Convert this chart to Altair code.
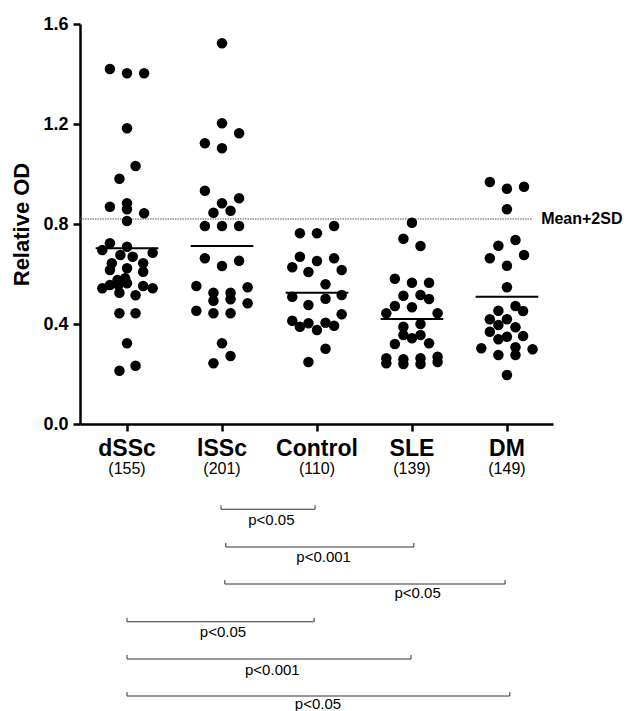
import altair as alt
import pandas as pd

FONT = "Liberation Sans"

categories = ["dSSc", "lSSc", "Control", "SLE", "DM"]
n_labels = ["(155)", "(201)", "(110)", "(139)", "(149)"]

# values (Relative OD) and horizontal scatter offsets (in category widths)
dssc_vals = [1.42, 1.403, 1.403, 1.183, 1.032, 0.981, 0.869, 0.883, 0.859, 0.843, 0.812,
             0.723, 0.696, 0.709, 0.676, 0.669, 0.685, 0.643, 0.616, 0.623, 0.643, 0.609,
             0.576, 0.583, 0.543, 0.556, 0.556, 0.563, 0.525, 0.515, 0.552, 0.543,
             0.443, 0.443, 0.323, 0.213, 0.233]
dssc_off = [-0.18, 0, 0.18, 0, 0.09, -0.08, -0.18, 0, 0, 0.18, 0,
            -0.18, -0.26, 0, -0.07, 0.06, 0.27, -0.16, -0.18, 0, 0.17, 0.17,
            -0.1, -0.02, -0.26, -0.18, -0.09, 0, -0.08, 0.09, 0.17, 0.27,
            -0.08, 0.09, 0, -0.08, 0.09]

lssc_vals = [1.523, 1.203, 1.163, 1.123, 1.103, 0.933, 0.903, 0.883, 0.845, 0.853,
             0.792, 0.792, 0.792, 0.663, 0.632, 0.653, 0.552, 0.525, 0.493, 0.525,
             0.499, 0.547, 0.483, 0.453, 0.443, 0.443, 0.323, 0.272, 0.243]
lssc_off = [0, 0, 0.18, -0.18, 0, -0.18, 0.18, 0, -0.09, 0.09,
            -0.18, 0, 0.18, -0.18, 0, 0.18, -0.27, -0.09, -0.09, 0.09,
            0.09, 0.27, 0.27, -0.27, -0.09, 0.09, 0, 0.09, -0.09]

control_vals = [0.763, 0.763, 0.792, 0.669, 0.652, 0.663, 0.627, 0.608, 0.616, 0.559,
                0.509, 0.501, 0.516, 0.476, 0.439, 0.413, 0.389, 0.403, 0.376, 0.405,
                0.393, 0.301, 0.248]
control_off = [-0.18, 0, 0.18, -0.18, 0, 0.18, -0.26, -0.09, 0.26, 0.09,
               -0.26, 0.09, 0.26, -0.09, 0.26, -0.26, -0.18, -0.09, 0, 0.09,
               0.18, 0.09, -0.09]

sle_vals = [0.805, 0.741, 0.712, 0.581, 0.565, 0.565, 0.513, 0.516, 0.5, 0.472,
            0.467, 0.443, 0.443, 0.389, 0.4, 0.356, 0.356, 0.32, 0.343, 0.323,
            0.263, 0.243, 0.259, 0.24, 0.263, 0.24, 0.269, 0.248]
sle_off = [0, -0.09, 0.09, -0.18, 0, 0.18, -0.09, 0.09, 0.18, -0.18,
           0, -0.27, 0.27, -0.09, 0.09, -0.09, 0.09, -0.18, 0, 0.18,
           -0.27, -0.27, -0.09, -0.09, 0.09, 0.09, 0.27, 0.27]

dm_vals = [0.968, 0.941, 0.949, 0.859, 0.736, 0.713, 0.676, 0.663, 0.633, 0.547,
           0.472, 0.452, 0.453, 0.419, 0.396, 0.419, 0.387, 0.369, 0.339, 0.349,
           0.352, 0.303, 0.276, 0.307, 0.276, 0.299, 0.196]
dm_off = [-0.18, 0, 0.18, 0, 0.09, -0.09, 0.18, -0.18, 0, 0,
          0.09, 0.17, -0.09, -0.18, -0.09, 0, 0.09, -0.18, -0.09, 0,
          0.17, -0.27, -0.09, 0.09, 0.09, 0.27, 0]

means = [0.703, 0.712, 0.525, 0.42, 0.509]
mean_plus_2sd = 0.82

# significance brackets: start, end (category positions), p-label and its x position
br_start = [0.99, 1.04, 1.03, 0.0, 0.0, 0.0]
br_end = [1.98, 3.02, 3.98, 1.97, 2.99, 4.03]
br_label = ["p<0.05", "p<0.001", "p<0.05", "p<0.05", "p<0.001", "p<0.05"]
br_label_x = [1.52, 2.07, 3.06, 1.01, 1.53, 2.01]
br_y = [-0.341, -0.492, -0.64, -0.791, -0.94, -1.088]
br_label_y = [-0.384, -0.531, -0.677, -0.831, -0.984, -1.118]

# ---------- build tables ----------
groups = [dssc_vals, lssc_vals, control_vals, sle_vals, dm_vals]
offsets = [dssc_off, lssc_off, control_off, sle_off, dm_off]
rows = []
for i, (vals, offs) in enumerate(zip(groups, offsets)):
    for v, o in zip(vals, offs):
        rows.append({"x": i + o, "y": v, "group": categories[i]})
pts = pd.DataFrame(rows)

mean_df = pd.DataFrame({"x": [i - 0.33 for i in range(5)],
                        "x2": [i + 0.33 for i in range(5)],
                        "y": means})

cat_df = pd.DataFrame({"x": list(range(5)), "name": categories, "n": n_labels,
                       "ny": [-0.1] * 5, "nny": [-0.18] * 5})

br_df = pd.DataFrame({"x": br_start, "x2": br_end, "y": br_y,
                      "ytop": [b + 0.016 for b in br_y]})
brl_df = pd.DataFrame({"x": br_label_x, "y": br_label_y, "label": br_label})

ref_df = pd.DataFrame({"x": [-0.495], "x2": [4.27], "y": [mean_plus_2sd],
                       "lx": [4.36], "label": ["Mean+2SD"]})

xs = alt.Scale(domain=[-0.495, 4.485], nice=False, zero=False)
ys = alt.Scale(domain=[0, 1.6], nice=False, zero=False)

x_axis = alt.Axis(values=[0, 1, 2, 3, 4], labels=False, title=None, grid=False,
                  domainColor="black", domainWidth=2.5, tickColor="black",
                  tickWidth=2.5, tickSize=7)
y_axis = alt.Axis(values=[0, 0.4, 0.8, 1.2, 1.6], format=".1f", title="Relative OD",
                  grid=False, domainColor="black", domainWidth=2.5,
                  tickColor="black", tickWidth=2.5, tickSize=7,
                  labelFont=FONT, labelFontSize=18, labelFontWeight="bold",
                  labelColor="black", labelPadding=5,
                  titleFont=FONT, titleFontSize=22, titleFontWeight="bold",
                  titleColor="black", titlePadding=9)

points = alt.Chart(pts).mark_circle(size=110, color="black", opacity=1).encode(
    x=alt.X("x:Q", scale=xs, axis=x_axis),
    y=alt.Y("y:Q", scale=ys, axis=y_axis),
)

mean_lines = alt.Chart(mean_df).mark_rule(color="black", strokeWidth=2).encode(
    x=alt.X("x:Q", scale=xs), x2="x2:Q", y=alt.Y("y:Q", scale=ys))

ref_line = alt.Chart(ref_df).mark_rule(color="#555555", strokeWidth=1,
                                       strokeDash=[1.5, 1]).encode(
    x=alt.X("x:Q", scale=xs), x2="x2:Q", y=alt.Y("y:Q", scale=ys))

ref_text = alt.Chart(ref_df).mark_text(font=FONT, fontSize=16, fontWeight="bold",
                                       align="left", baseline="middle",
                                       color="black").encode(
    x=alt.X("lx:Q", scale=xs), y=alt.Y("y:Q", scale=ys), text="label:N")

cat_text = alt.Chart(cat_df).mark_text(font=FONT, fontSize=23, fontWeight="bold",
                                       baseline="middle", color="black").encode(
    x=alt.X("x:Q", scale=xs), y=alt.Y("ny:Q", scale=ys), text="name:N")

n_text = alt.Chart(cat_df).mark_text(font=FONT, fontSize=16, baseline="middle",
                                     color="black").encode(
    x=alt.X("x:Q", scale=xs), y=alt.Y("nny:Q", scale=ys), text="n:N")

br_h = alt.Chart(br_df).mark_rule(color="#333333", strokeWidth=1).encode(
    x=alt.X("x:Q", scale=xs), x2="x2:Q", y=alt.Y("y:Q", scale=ys))
br_l = alt.Chart(br_df).mark_rule(color="#333333", strokeWidth=1).encode(
    x=alt.X("x:Q", scale=xs), y=alt.Y("y:Q", scale=ys), y2="ytop:Q")
br_r = alt.Chart(br_df).mark_rule(color="#333333", strokeWidth=1).encode(
    x=alt.X("x2:Q", scale=xs), y=alt.Y("y:Q", scale=ys), y2="ytop:Q")
br_text = alt.Chart(brl_df).mark_text(font=FONT, fontSize=15, baseline="middle",
                                      color="black").encode(
    x=alt.X("x:Q", scale=xs), y=alt.Y("y:Q", scale=ys), text="label:N")

chart = alt.layer(ref_line, mean_lines, points, ref_text, cat_text, n_text,
                  br_h, br_l, br_r, br_text).properties(
    width=473, height=400,
    background="white",
    autosize=alt.AutoSizeParams(type="none"),
    padding={"left": 72, "top": 16, "right": 74, "bottom": 287},
).configure_view(strokeWidth=0, stroke="transparent")

chart.save("out.html", embed_options={"renderer": "svg", "actions": False})
